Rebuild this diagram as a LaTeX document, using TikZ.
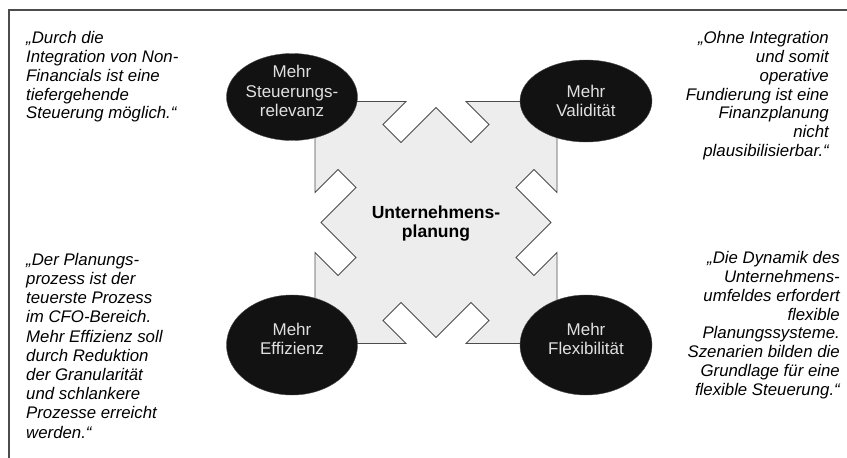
\documentclass[tikz,border=0pt]{standalone}
\usepackage{fontspec}
\setmainfont{Liberation Sans}
\usepackage{tikz}
\usetikzlibrary{shapes.geometric}
\definecolor{plan-gray}{gray}{0.93}
\definecolor{blob-black}{gray}{0.07}
\definecolor{blob-text}{gray}{0.88}
\definecolor{frame-gray}{gray}{0.3}

\tikzset{
	blob/.style={ellipse, draw=frame-gray, fill=blob-black, inner sep=0pt},
	blobtext/.style={text=blob-text, align=center, inner sep=0pt, font=\fontsize{17}{19.5}\selectfont},
	quote/.style={inner sep=0pt, font=\fontsize{16.8}{18.9}\selectfont\itshape},
}

\begin{document}
\begin{tikzpicture}[x=1pt,y=-1pt]

			\useasboundingbox (0,0) rectangle (847,458);
%			\draw[help lines] (0,0) grid[step=50] (847,458);

			\draw[frame-gray, line width=1.6pt] (9,458) -- (9,10) -- (847,10);

			\filldraw[fill=plan-gray, draw=frame-gray, line width=0.8pt, shift={(436,222.5)}]
				(-121,-121) -- (-30,-121) -- (-53,-98) -- (-35,-80) -- (0,-115) -- (35,-80) -- (53,-98) -- (30,-121)
				-- (121,-121) -- (121,-30) -- (98,-53) -- (80,-35) -- (115,0) -- (80,35) -- (98,53) -- (121,30)
				-- (121,121) -- (30,121) -- (53,98) -- (35,80) -- (0,115) -- (-35,80) -- (-53,98) -- (-30,121)
				-- (-121,121) -- (-121,30) -- (-98,53) -- (-80,35) -- (-115,0) -- (-80,-35) -- (-98,-53) -- (-121,-30) -- cycle;

			\node[font=\fontsize{17.5}{19.5}\selectfont\bfseries, align=center] (plan) at (436,223.5) {Unternehmens-\\planung};

			\node[blob, minimum width=131pt, minimum height=87pt] (steuer) at (292,97) {};
			\node[blob, minimum width=132pt, minimum height=82pt] (valid) at (586,101) {};
			\node[blob, minimum width=131pt, minimum height=100pt] (effiz) at (292,345) {};
			\node[blob, minimum width=132pt, minimum height=100pt] (flex) at (586,345) {};

			\node[blobtext] (steuer-t) at ([yshift=6pt]steuer.center) {Mehr\\Steuerungs-\\relevanz};
			\node[blobtext] (valid-t) at (valid.center) {Mehr\\Validität};
			\node[blobtext] (effiz-t) at ([yshift=6pt]effiz.center) {Mehr\\Effizienz};
			\node[blobtext] (flex-t) at ([yshift=6pt]flex.center) {Mehr\\Flexibilität};

			\node[quote, align=left, anchor=north west] (q-steuer) at (26,31) {„Durch die\\Integration von Non-\\Financials ist eine\\tiefergehende\\Steuerung möglich.“};
			\node[quote, align=right, anchor=north east] (q-valid) at (829,31) {„Ohne Integration\\und somit\\operative\\Fundierung ist eine\\Finanzplanung\\nicht\\plausibilisierbar.“};
			\node[quote, font=\fontsize{16.8}{19.2}\selectfont\itshape, align=left, anchor=north west] (q-effiz) at (26,253) {„Der Planungs-\\prozess ist der\\teuerste Prozess\\im CFO-Bereich.\\Mehr Effizienz soll\\durch Reduktion\\der Granularität\\und schlankere\\Prozesse erreicht\\werden.“};
			\node[quote, align=right, anchor=north east] (q-flex) at (840,251) {„Die Dynamik des\\Unternehmens-\\umfeldes erfordert\\flexible\\Planungssysteme.\\Szenarien bilden die\\Grundlage für eine\\flexible Steuerung.“};

\end{tikzpicture}
\end{document}
